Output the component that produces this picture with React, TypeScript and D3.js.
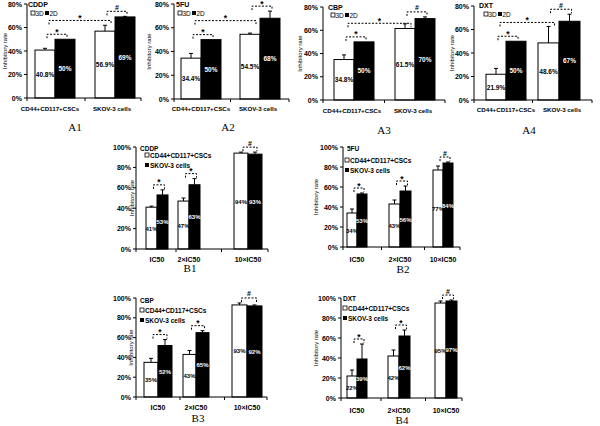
import React from "react";
import * as d3 from "d3";

// ---------- DATA ----------
const drugs = ["CDDP", "5FU", "CBP", "DXT"];
const aCategories = ["CD44+CD117+CSCs", "SKOV-3 cells"];
const aSeries = ["3D", "2D"];
const a3D = [[40.8, 56.9], [34.4, 54.5], [34.8, 61.5], [21.9, 48.6]];
const a3DErr = [[1.5, 5], [4, 1], [4, 4], [5, 14]];
const a2D = [[50, 69], [50, 68], [50, 70], [50, 67]];
const a2DErr = [[0, 0.5], [0, 6], [0, 1.5], [0, 6]];
const aSigWithin = [["*", "#"], ["*", "*"], ["*", "#"], ["*", "#"]];
const aSigBetween = ["*", "*", "*", "*"];
const aTicks = [0, 20, 40, 60, 80];

const bCategories = ["IC50", "2×IC50", "10×IC50"];
const bSeries = ["CD44+CD117+CSCs", "SKOV-3 cells"];
const bCSC = [[41, 47, 94], [34, 43, 77], [35, 43, 93], [22, 42, 95]];
const bCSCErr = [[1, 3, 1], [4, 4, 4], [4, 4, 2], [6, 6, 2]];
const bSKOV = [[53, 63, 93], [53, 56, 84], [52, 65, 92], [39, 62, 97]];
const bSKOVErr = [[5, 6, 2], [1, 5, 1], [6, 2, 1], [15, 6, 1]];
const bSig = ["*", "*", "#"];
const bTicks = [0, 20, 40, 60, 80, 100];

const panelNames = ["A1", "A2", "A3", "A4", "B1", "B2", "B3", "B4"];

// ---------- LAYOUT ----------
type Layout = {
  ax: number; axEnd: number; yTop: number; y0: number;
  centers: number[]; widths: number[];
  titleX: number; catY: number; catX?: number[];
  nameX: number; nameY: number;
  drugX: number; drugY: number; legX: number; legY: number;
};

const aLayouts: Layout[] = [
  { ax: 27, axEnd: 141, yTop: 4, y0: 98, centers: [55, 115], widths: [20, 20], titleX: 7, catY: 108, catX: [50, 112], nameX: 75, nameY: 127, drugX: 28, drugY: 4, legX: 31, legY: 13 },
  { ax: 174, axEnd: 289, yTop: 4, y0: 99, centers: [201, 260], widths: [20, 20], titleX: 151, catY: 108, catX: [201, 258], nameX: 228, nameY: 127, drugX: 176, drugY: 4, legX: 178, legY: 13 },
  { ax: 323, axEnd: 445, yTop: 7, y0: 100, centers: [354, 415], widths: [20, 20], titleX: 302, catY: 110, catX: [352, 413], nameX: 384, nameY: 130, drugX: 328, drugY: 7, legX: 331, legY: 15 },
  { ax: 474, axEnd: 592, yTop: 6, y0: 100, centers: [506, 559], widths: [20, 21], titleX: 454, catY: 109, catX: [506, 562], nameX: 529, nameY: 130, drugX: 479, drugY: 5, legX: 484, legY: 14 },
];
const bLayouts: Layout[] = [
  { ax: 136, axEnd: 268, yTop: 147, y0: 249, centers: [157, 189, 248], widths: [11, 11, 14], titleX: 134, catY: 259, nameX: 190, nameY: 268.5, drugX: 140, drugY: 148, legX: 145, legY: 155 },
  { ax: 343, axEnd: 460, yTop: 147, y0: 247, centers: [357, 400, 443], widths: [10, 11, 10], titleX: 318, catY: 259, nameX: 403, nameY: 269, drugX: 347, drugY: 148, legX: 345, legY: 160 },
  { ax: 136, axEnd: 267, yTop: 298, y0: 397, centers: [158, 196, 247], widths: [14, 13, 15], titleX: 133, catY: 407, nameX: 198, nameY: 418, drugX: 140, drugY: 300, legX: 140, legY: 310 },
  { ax: 341, axEnd: 462, yTop: 298, y0: 398, centers: [357, 399, 446], widths: [10, 11, 11], titleX: 318, catY: 410, nameX: 402, nameY: 420, drugX: 343, drugY: 298, legX: 343, legY: 308 },
];

const SANS = "'Liberation Sans', Arial, sans-serif";
const SERIF = "'Liberation Serif', 'Times New Roman', serif";

function Bracket({ xa, xb, yb, sym, drop = 4 }: { xa: number; xb: number; yb: number; sym: string; drop?: number }) {
  return (
    <g>
      <path d={`M${xa},${yb + drop}V${yb}H${xb}V${yb + drop}`} fill="none" stroke="#000" strokeWidth={1} strokeDasharray="2,1.5" />
      <text x={(xa + xb) / 2} y={sym === "*" ? yb + 0.5 : yb - 1.5} textAnchor="middle" fontFamily={SANS} fontWeight="bold" fontSize={sym === "*" ? 8.5 : 7}>{sym}</text>
    </g>
  );
}

function Panel({ kind, idx }: { kind: "A" | "B"; idx: number }) {
  const L = kind === "A" ? aLayouts[idx] : bLayouts[idx];
  const cats = kind === "A" ? aCategories : bCategories;
  const ticks = kind === "A" ? aTicks : bTicks;
  const yMax = ticks[ticks.length - 1];
  const vals = kind === "A" ? [a3D[idx], a2D[idx]] : [bCSC[idx], bSKOV[idx]];
  const errs = kind === "A" ? [a3DErr[idx], a2DErr[idx]] : [bCSCErr[idx], bSKOVErr[idx]];
  const seriesNames = kind === "A" ? aSeries : bSeries;
  const y = d3.scaleLinear().domain([0, yMax]).range([L.y0, L.yTop]);
  const x = d3.scaleOrdinal<string, number>().domain(cats).range(L.centers);
  const wid = d3.scaleOrdinal<string, number>().domain(cats).range(L.widths);
  const fmt = (v: number, s: number) =>
    kind === "A" && s === 0 ? d3.format(".1f")(v) + "%" : d3.format(".0f")(v) + "%";

  const barLeft = (c: string, s: number) => (s === 0 ? x(c) - wid(c) : x(c));
  const barCenter = (c: string, s: number) => barLeft(c, s) + wid(c) / 2;

  const xTicks = [L.ax, ...L.centers.slice(0, -1).map((c, i) => (c + L.centers[i + 1]) / 2 + (kind === "A" ? 0 : 3)), L.axEnd];

  const name = panelNames[(kind === "A" ? 0 : 4) + idx];
  const sigs = kind === "A" ? aSigWithin[idx] : bSig;

  return (
    <g>
      {/* bars */}
      {vals.map((arr, s) =>
        cats.map((c, g) => (
          <rect key={`b${s}-${g}`} x={barLeft(c, s)} y={y(arr[g])} width={wid(c)} height={L.y0 - y(arr[g])}
            fill={s === 0 ? "#fff" : "#000"} stroke="#000" strokeWidth={1} />
        ))
      )}
      {/* error bars */}
      {vals.map((arr, s) =>
        cats.map((c, g) => {
          const e = errs[s][g];
          if (e <= 0) return null;
          const cx = barCenter(c, s);
          return (
            <g key={`e${s}-${g}`} stroke="#000" strokeWidth={1}>
              <line x1={cx} x2={cx} y1={y(arr[g])} y2={y(arr[g] + e)} />
              <line x1={cx - 2} x2={cx + 2} y1={y(arr[g] + e)} y2={y(arr[g] + e)} />
            </g>
          );
        })
      )}
      {/* value labels */}
      {vals.map((arr, s) =>
        cats.map((c, g) => (
          <text key={`t${s}-${g}`} x={barCenter(c, s)} y={(y(arr[g]) + L.y0) / 2 + 2.5} textAnchor="middle"
            fontFamily={SANS} fontWeight="bold" fontSize={kind === "A" ? 6.5 : 6} fill={s === 0 ? "#000" : "#fff"}>
            {fmt(arr[g], s)}
          </text>
        ))
      )}
      {/* y axis */}
      <line x1={L.ax} x2={L.ax} y1={L.y0} y2={L.yTop} stroke="#000" />
      {ticks.map((t) => (
        <g key={`yt${t}`}>
          <line x1={L.ax - 3} x2={L.ax} y1={y(t)} y2={y(t)} stroke="#000" />
          <text x={L.ax - 5} y={y(t) + 2.5} textAnchor="end" fontFamily={SANS} fontWeight="bold" fontSize={7}>{t}%</text>
        </g>
      ))}
      {/* x axis */}
      <line x1={L.ax} x2={L.axEnd} y1={L.y0} y2={L.y0} stroke="#000" />
      {xTicks.map((t, i) => (
        <line key={`xt${i}`} x1={t} x2={t} y1={L.y0} y2={L.y0 + 3} stroke="#000" />
      ))}
      {cats.map((c, g) => (
        <text key={`c${g}`} x={L.catX ? L.catX[g] : x(c)} y={L.catY + 2.5} textAnchor="middle" fontFamily={SANS} fontWeight="bold" fontSize={kind === "A" ? 6.2 : 7}>{c}</text>
      ))}
      {/* y title */}
      <text transform={`translate(${L.titleX},${(L.y0 + L.yTop) / 2}) rotate(-90)`} textAnchor="middle" fontFamily={SANS} fontSize={6}>Inhibitory rate</text>
      {/* drug + legend */}
      <text x={L.drugX} y={L.drugY + 3} fontFamily={SANS} fontWeight="bold" fontSize={kind === "A" ? 7 : 6.5}>{drugs[idx]}</text>
      {kind === "A" ? (
        <g fontFamily={SANS} fontSize={6.5}>
          <rect x={L.legX} y={L.legY - 2} width={4} height={4} fill="#fff" stroke="#000" strokeWidth={0.8} />
          <text x={L.legX + 4.5} y={L.legY + 2.5}>{seriesNames[0]}</text>
          <rect x={L.legX + 14} y={L.legY - 2} width={4} height={4} fill="#000" />
          <text x={L.legX + 18.5} y={L.legY + 2.5}>{seriesNames[1]}</text>
        </g>
      ) : (
        <g fontFamily={SANS} fontSize={6.5} fontWeight="bold">
          <rect x={L.legX} y={L.legY - 2} width={4} height={4} fill="#fff" stroke="#000" strokeWidth={0.8} />
          <text x={L.legX + 5} y={L.legY + 2.5}>{seriesNames[0]}</text>
          <rect x={L.legX} y={L.legY + 8} width={4} height={4} fill="#000" />
          <text x={L.legX + 5} y={L.legY + 12.5}>{seriesNames[1]}</text>
        </g>
      )}
      {/* within-group brackets */}
      {cats.map((c, g) => {
        const top = Math.max(vals[0][g] + errs[0][g], vals[1][g] + errs[1][g]);
        return <Bracket key={`br${g}`} xa={barCenter(c, 0) + 2} xb={barCenter(c, 1) + 2} yb={y(top) - 5} sym={sigs[g]} />;
      })}
      {/* between-group bracket (A) */}
      {kind === "A" && (
        <Bracket xa={barCenter(cats[0], 0) + 4} xb={barCenter(cats[1], 0) + 6} yb={y(66)} sym={aSigBetween[idx]} />
      )}
      {/* panel name */}
      <text x={L.nameX} y={L.nameY + 3.5} textAnchor="middle" fontFamily={SERIF} fontSize={11}>{name}</text>
    </g>
  );
}

export default function App() {
  return (
    <svg width={600} height={426} viewBox="0 0 600 426" style={{ position: "absolute", left: 0, top: 0, background: "#fff" }}>
      <rect width={600} height={426} fill="#fff" />
      {[0, 1, 2, 3].map((i) => <Panel key={`A${i}`} kind="A" idx={i} />)}
      {[0, 1, 2, 3].map((i) => <Panel key={`B${i}`} kind="B" idx={i} />)}
    </svg>
  );
}
